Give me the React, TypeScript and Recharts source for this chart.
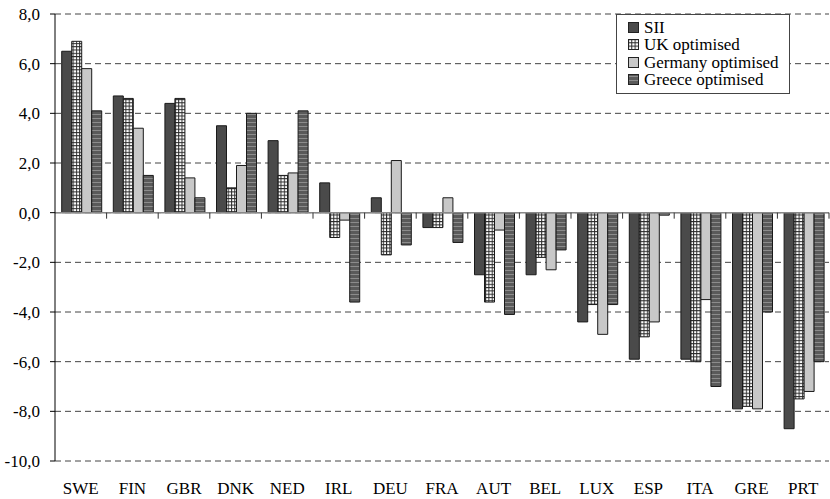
import React from "react";
import {
  BarChart,
  Bar,
  XAxis,
  YAxis,
  CartesianGrid,
  ReferenceLine,
  Legend,
} from "recharts";

const countries = ["SWE", "FIN", "GBR", "DNK", "NED", "IRL", "DEU", "FRA", "AUT", "BEL", "LUX", "ESP", "ITA", "GRE", "PRT"];
const sii = [6.5, 4.7, 4.4, 3.5, 2.9, 1.2, 0.6, -0.6, -2.5, -2.5, -4.4, -5.9, -5.9, -7.9, -8.7];
const ukOpt = [6.9, 4.6, 4.6, 1.0, 1.5, -1.0, -1.7, -0.6, -3.6, -1.8, -3.7, -5.0, -6.0, -7.8, -7.5];
const germanyOpt = [5.8, 3.4, 1.4, 1.9, 1.6, -0.3, 2.1, 0.6, -0.7, -2.3, -4.9, -4.4, -3.5, -7.9, -7.2];
const greeceOpt = [4.1, 1.5, 0.6, 4.0, 4.1, -3.6, -1.3, -1.2, -4.1, -1.5, -3.7, -0.1, -7.0, -4.0, -6.0];
const yTicks = [-10, -8, -6, -4, -2, 0, 2, 4, 6, 8];

const series = [
  { key: "sii", name: "SII", fill: "#4a4a4a" },
  { key: "uk", name: "UK optimised", fill: "url(#ukGrid)" },
  { key: "germany", name: "Germany optimised", fill: "#c8c8c8" },
  { key: "greece", name: "Greece optimised", fill: "url(#greStripe)" },
];

const data = countries.map((c, i) => ({
  country: c,
  sii: sii[i],
  uk: ukOpt[i],
  germany: germanyOpt[i],
  greece: greeceOpt[i],
}));

const FONT = "Liberation Serif";
const W = 830;
const H = 499;
const TOP = 14;
const BOTTOM_GAP = 38;
const plotH = H - TOP - BOTTOM_GAP;
const zeroY = TOP + (plotH * 8) / 18;
const bandW = (W - 1 - 55) / countries.length;

// category label at the bottom, boundary tick hanging off the zero line
function XTick(props: any) {
  const { x, payload } = props;
  return (
    <g>
      <line x1={x + bandW / 2} x2={x + bandW / 2} y1={zeroY} y2={zeroY + 6} stroke="#333" />
      <text x={x} y={494} textAnchor="middle" style={{ fontFamily: FONT, fontSize: 17 }} fill="#000">
        {payload.value}
      </text>
    </g>
  );
}

function LegendBox() {
  return (
    <div
      style={{
        border: "1px solid #444",
        background: "#fff",
        padding: "4px 6px 4px 11px",
        fontFamily: FONT,
        fontSize: 17,
        lineHeight: "17.4px",
        width: 155,
      }}
    >
      {series.map((s) => (
        <div key={s.key} style={{ display: "flex", alignItems: "center" }}>
          <svg width={12} height={12} style={{ marginRight: 4 }}>
            <rect x={0.5} y={0.5} width={10} height={10} fill={s.fill} stroke="#222" />
          </svg>
          <span>{s.name}</span>
        </div>
      ))}
    </div>
  );
}

export default function App() {
  return (
    <div style={{ position: "absolute", left: 0, top: 0, background: "#fff", fontFamily: FONT }}>
      <svg width={0} height={0} style={{ position: "absolute" }}>
        <defs>
          <pattern id="ukGrid" width="3.3" height="3.3" patternUnits="userSpaceOnUse">
            <rect width="3.3" height="3.3" fill="#fff" />
            <path d="M0 0.5H3.3M0.5 0V3.3" stroke="#2a2a2a" strokeWidth="1" />
          </pattern>
          <pattern id="greStripe" width="4" height="4" patternUnits="userSpaceOnUse">
            <rect width="4" height="4" fill="#5a5a5a" />
            <rect y="2" width="4" height="1" fill="#8c8c8c" />
          </pattern>
        </defs>
      </svg>
      <BarChart
        width={W}
        height={H}
        data={data}
        margin={{ top: TOP, right: 1, bottom: 0, left: 0 }}
        barCategoryGap="13%"
        barGap={0}
        style={{ fontFamily: FONT }}
      >
        <CartesianGrid vertical={false} stroke="#444" strokeDasharray="6 4" />
        <XAxis
          dataKey="country"
          axisLine={false}
          tickLine={false}
          height={BOTTOM_GAP}
          interval={0}
          tick={<XTick />}
        />
        <YAxis
          width={55}
          domain={[-10, 8]}
          ticks={yTicks}
          interval={0}
          allowDataOverflow
          axisLine={{ stroke: "#000" }}
          tickLine={{ stroke: "#000" }}
          tickSize={5}
          tickMargin={10}
          tick={{ fontFamily: FONT, fontSize: 17, fill: "#000" }}
          tickFormatter={(v: number) => v.toFixed(1).replace(".", ",")}
        />
        <ReferenceLine y={0} stroke="#888" strokeWidth={1.5} />
        {series.map((s) => (
          <Bar
            key={s.key}
            dataKey={s.key}
            name={s.name}
            fill={s.fill}
            stroke="#1a1a1a"
            strokeWidth={1}
            isAnimationActive={false}
          />
        ))}
        <Legend
          layout="vertical"
          align="center"
          verticalAlign="middle"
          content={<LegendBox />}
          wrapperStyle={{ top: 14, left: 616, width: 174 }}
        />
      </BarChart>
    </div>
  );
}
